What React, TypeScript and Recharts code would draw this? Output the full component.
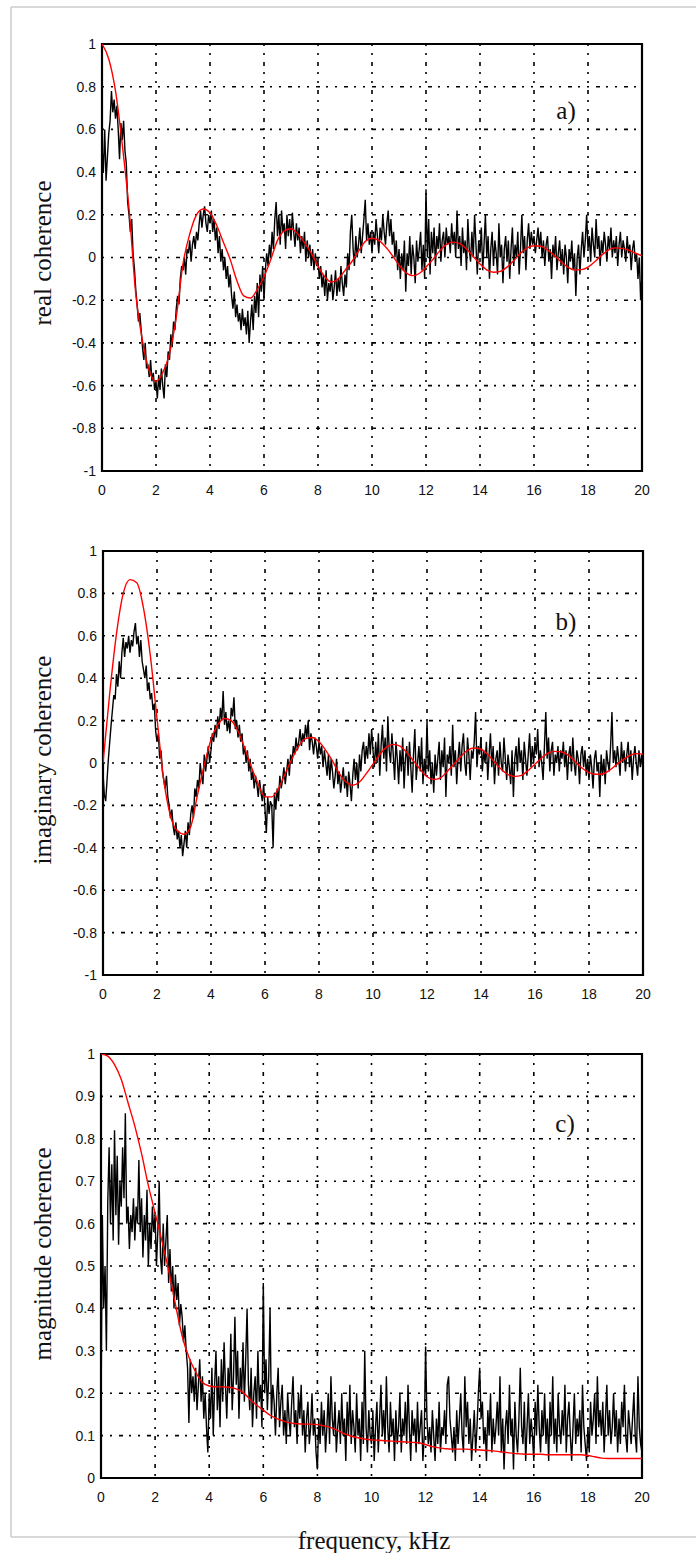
import { LineChart, Line, XAxis, YAxis, CartesianGrid, ReferenceArea } from "recharts";

const freqTicks = [0, 2, 4, 6, 8, 10, 12, 14, 16, 18, 20];
const signedTicks = [-1, -0.8, -0.6, -0.4, -0.2, 0, 0.2, 0.4, 0.6, 0.8, 1];
const magTicks = [0, 0.1, 0.2, 0.3, 0.4, 0.5, 0.6, 0.7, 0.8, 0.9, 1];

// measured curves are sampled every 0.05 kHz, model curves every 0.25 kHz
const MEASURED_STEP = 0.05;
const MODEL_STEP = 0.25;

const realMeasured = [
  0.52, 0.40, 0.60, 0.36, 0.47, 0.58, 0.64, 0.78, 0.68, 0.74, 0.65, 0.71, 0.60, 0.46, 0.63, 0.55, 0.64, 0.50, 0.44, 0.26,
  0.20, 0.12, 0.18, 0.02, -0.05, -0.15, -0.22, -0.30, -0.26, -0.34, -0.42, -0.48, -0.40, -0.52, -0.50, -0.56, -0.48, -0.58, -0.54, -0.62,
  -0.58, -0.66, -0.55, -0.62, -0.52, -0.60, -0.66, -0.50, -0.56, -0.44, -0.48, -0.36, -0.42, -0.30, -0.34, -0.24, -0.18, -0.22, -0.10, -0.04,
  -0.06, 0.0, -0.08, 0.04, 0.02, 0.08, -0.02, 0.06, 0.10, 0.04, 0.12, 0.08, 0.16, 0.22, 0.14, 0.20, 0.24, 0.16, 0.12, 0.20,
  0.16, 0.22, 0.12, 0.18, 0.08, 0.14, 0.02, 0.10, -0.02, 0.04, -0.06, 0.0, -0.10, -0.04, -0.14, -0.08, -0.18, -0.24, -0.16, -0.28,
  -0.22, -0.30, -0.26, -0.34, -0.24, -0.32, -0.28, -0.36, -0.25, -0.40, -0.30, -0.22, -0.34, -0.18, -0.26, -0.12, -0.28, -0.08, -0.16, -0.04,
  -0.20, -0.06, 0.02, -0.04, 0.06, 0.0, 0.12, 0.04, 0.18, 0.26, 0.10, 0.20, 0.06, 0.22, 0.12, 0.16, 0.04, 0.20, 0.10, 0.18,
  0.08, 0.21, 0.12, 0.05, 0.16, 0.08, 0.14, 0.02, 0.10, 0.04, 0.12, -0.02, 0.08, 0.0, 0.06, -0.04, 0.04, -0.06, 0.02, -0.04,
  -0.02, -0.10, -0.04, -0.14, -0.08, -0.18, -0.06, -0.20, -0.12, -0.16, -0.08, -0.20, -0.14, -0.06, -0.18, -0.10, -0.16, -0.04, -0.12, -0.18,
  -0.08, -0.14, 0.02, -0.06, 0.12, 0.20, 0.04, -0.04, 0.10, 0.0, 0.06, 0.14, 0.02, 0.10, 0.18, 0.27, 0.08, 0.16, 0.06, 0.12,
  0.02, 0.12, 0.06, 0.18, 0.10, 0.02, 0.14, 0.08, 0.20, 0.12, 0.06, 0.16, 0.22, 0.10, 0.18, 0.06, 0.12, 0.0, 0.08, -0.06,
  0.04, -0.10, 0.02, -0.06, 0.08, -0.16, 0.02, -0.04, 0.10, -0.08, 0.06, 0.0, -0.12, 0.08, -0.02, 0.04, 0.12, -0.06, 0.06, -0.10,
  0.32, 0.0, 0.18, -0.08, 0.12, 0.02, 0.14, -0.04, 0.10, 0.04, 0.16, -0.02, 0.08, 0.12, 0.0, 0.14, 0.06, 0.10, 0.02, 0.16,
  0.06, 0.12, 0.0, 0.22, 0.04, 0.10, -0.04, 0.14, 0.02, 0.08, -0.06, 0.18, 0.04, -0.02, 0.12, 0.0, 0.20, 0.06, -0.08, 0.08,
  0.02, 0.14, -0.06, 0.06, 0.20, 0.0, 0.10, -0.10, 0.04, 0.12, -0.04, 0.08, 0.02, -0.08, 0.16, 0.0, 0.06, -0.12, 0.04, 0.10,
  -0.02, 0.08, -0.10, 0.04, 0.14, -0.04, 0.06, 0.0, 0.12, -0.08, 0.04, 0.20, 0.02, 0.10, -0.06, 0.08, 0.16, 0.04, 0.12, 0.06,
  0.10, 0.02, 0.08, 0.14, 0.04, 0.12, 0.0, 0.08, -0.04, 0.06, 0.10, -0.02, 0.04, -0.10, 0.06, 0.0, 0.10, -0.06, 0.02, 0.08,
  -0.04, 0.04, -0.08, 0.06, 0.0, -0.12, 0.04, -0.02, 0.08, -0.06, 0.02, -0.18, 0.0, 0.06, -0.08, 0.04, 0.12, 0.0, 0.08, 0.20,
  0.04, 0.10, -0.02, 0.14, 0.06, 0.0, 0.18, 0.04, 0.10, -0.04, 0.08, 0.02, 0.12, 0.06, -0.02, 0.10, 0.04, 0.14, 0.0, 0.08,
  0.02, 0.10, -0.04, 0.06, 0.12, 0.0, 0.08, 0.04, -0.02, 0.10, 0.02, 0.06, -0.06, 0.04, 0.08, -0.02, 0.02, -0.10, 0.0, -0.20,
  -0.08,
];

const realModel = [
  1.0, 0.93, 0.78, 0.53,
  0.23, -0.17, -0.39, -0.53,
  -0.58, -0.54, -0.45, -0.28,
  -0.03, 0.11, 0.20, 0.227,
  0.21, 0.15, 0.07, -0.01,
  -0.11, -0.18, -0.19, -0.15,
  -0.09, -0.01, 0.08, 0.125,
  0.135, 0.11, 0.07, 0.02,
  -0.04, -0.09, -0.115, -0.10,
  -0.06, -0.02, 0.03, 0.075,
  0.09, 0.08, 0.05, 0.01,
  -0.035, -0.07, -0.085, -0.075,
  -0.045, -0.01, 0.03, 0.06,
  0.072, 0.065, 0.04, 0.005,
  -0.03, -0.058, -0.069, -0.065,
  -0.045, -0.015, 0.02, 0.045,
  0.055, 0.053, 0.035, 0.01,
  -0.02, -0.045, -0.058, -0.057,
  -0.045, -0.02, 0.01, 0.035,
  0.045, 0.043, 0.035, 0.02,
  0.008,
];

const imagMeasured = [
  -0.05, -0.15, -0.18, -0.08, 0.02, 0.10, 0.18, 0.25, 0.32, 0.30, 0.42, 0.36, 0.48, 0.40, 0.52, 0.59, 0.50, 0.57, 0.54, 0.60,
  0.52, 0.58, 0.55, 0.62, 0.66, 0.56, 0.60, 0.50, 0.58, 0.48, 0.44, 0.40, 0.46, 0.34, 0.38, 0.30, 0.33, 0.25, 0.28, 0.15,
  0.10, 0.14, 0.02, 0.06, -0.04, -0.08, -0.12, -0.06, -0.16, -0.20, -0.26, -0.22, -0.30, -0.34, -0.28, -0.36, -0.32, -0.40, -0.34, -0.44,
  -0.38, -0.32, -0.40, -0.28, -0.34, -0.24, -0.20, -0.26, -0.12, -0.16, -0.08, -0.12, 0.0, -0.06, -0.10, 0.04, -0.04, 0.02, 0.08, 0.0,
  0.06, 0.14, 0.10, 0.18, 0.12, 0.22, 0.16, 0.26, 0.20, 0.34, 0.18, 0.24, 0.15, 0.20, 0.14, 0.26, 0.22, 0.31, 0.16, 0.20,
  0.12, 0.18, 0.10, 0.14, 0.04, 0.08, 0.0, 0.06, -0.04, 0.02, -0.08, -0.04, -0.12, -0.06, -0.10, -0.16, -0.08, -0.14, -0.18, -0.10,
  -0.22, -0.33, -0.16, -0.24, -0.18, -0.20, -0.40, -0.14, -0.22, -0.12, -0.18, -0.06, -0.12, -0.08, -0.02, -0.10, -0.04, 0.02, -0.06, 0.04,
  0.0, 0.08, 0.04, 0.12, 0.06, 0.10, 0.16, 0.08, 0.14, 0.10, 0.18, 0.12, 0.20, 0.06, 0.14, 0.10, 0.04, 0.12, 0.08, 0.02,
  0.10, 0.04, 0.08, -0.02, 0.06, 0.0, -0.06, 0.04, -0.08, 0.02, -0.04, -0.12, -0.06, 0.02, -0.10, -0.04, -0.14, -0.08, -0.02, -0.12,
  -0.06, -0.16, -0.04, -0.10, -0.18, -0.06, 0.02, -0.08, 0.0, -0.12, 0.04, -0.04, 0.06, 0.10, 0.0, 0.08, 0.02, 0.14, 0.04, 0.16,
  0.06, -0.02, 0.10, 0.0, 0.14, -0.06, 0.08, 0.18, 0.02, 0.12, -0.04, 0.22, 0.06, 0.0, 0.14, 0.04, -0.08, 0.10, 0.02, -0.10,
  0.06, -0.04, 0.12, -0.12, 0.02, 0.08, -0.06, 0.10, -0.02, -0.14, 0.04, 0.16, -0.08, 0.0, 0.08, -0.04, 0.12, -0.10, 0.02, -0.06,
  0.20, -0.04, 0.06, -0.10, 0.0, -0.14, 0.04, -0.06, 0.02, 0.10, -0.08, 0.06, -0.02, 0.12, -0.16, 0.04, 0.0, 0.08, -0.06, 0.18,
  -0.02, 0.06, -0.10, 0.02, 0.10, -0.04, 0.08, 0.14, 0.0, -0.06, 0.12, 0.04, -0.08, 0.06, 0.02, 0.10, 0.24, -0.02, 0.08, 0.04,
  0.12, -0.04, 0.06, 0.0, 0.10, -0.08, 0.04, 0.14, -0.02, 0.08, -0.10, 0.02, 0.06, -0.06, 0.10, 0.0, -0.04, 0.12, 0.02, -0.08,
  0.04, -0.02, -0.10, 0.06, -0.16, 0.02, 0.08, -0.04, 0.12, 0.0, 0.06, -0.08, 0.10, 0.02, -0.06, 0.04, 0.14, -0.02, 0.08, 0.0,
  0.10, 0.04, 0.16, -0.02, 0.06, 0.0, -0.08, 0.08, 0.24, 0.02, 0.12, -0.04, 0.06, 0.10, -0.06, 0.04, 0.0, 0.08, -0.04, 0.06,
  0.02, 0.10, -0.02, 0.06, -0.08, 0.04, 0.08, -0.04, 0.12, 0.0, -0.06, 0.06, 0.02, -0.10, 0.04, 0.08, -0.02, 0.06, -0.06, 0.02,
  -0.08, 0.04, -0.02, -0.12, 0.02, 0.06, -0.04, 0.0, -0.16, 0.04, -0.06, 0.02, -0.10, 0.06, 0.0, -0.04, 0.08, 0.24, 0.0, 0.06,
  -0.02, 0.08, 0.02, -0.06, 0.10, 0.0, 0.06, -0.04, 0.04, 0.10, -0.02, 0.06, -0.08, 0.02, 0.08, 0.0, -0.06, 0.06, -0.02, 0.04,
  -0.04,
];

const imagModel = [
  0.0, 0.33, 0.61, 0.80,
  0.865, 0.85, 0.73, 0.51,
  0.21, -0.08, -0.25, -0.32,
  -0.336, -0.30, -0.15, -0.01,
  0.11, 0.18, 0.21, 0.20,
  0.15, 0.07, -0.02, -0.10,
  -0.16, -0.16, -0.12, -0.05,
  0.02, 0.08, 0.115, 0.12,
  0.10, 0.06, 0.01, -0.05,
  -0.09, -0.105, -0.09, -0.05,
  -0.005, 0.04, 0.075, 0.088,
  0.08, 0.05, 0.01, -0.03,
  -0.065, -0.078, -0.07, -0.04,
  -0.005, 0.03, 0.06, 0.071,
  0.065, 0.04, 0.005, -0.03,
  -0.055, -0.063, -0.058, -0.035,
  -0.005, 0.025, 0.048, 0.055,
  0.052, 0.035, 0.005, -0.025,
  -0.045, -0.053, -0.052, -0.035,
  -0.01, 0.015, 0.035, 0.044,
  0.042,
];

const magMeasured = [
  0.15, 0.62, 0.40, 0.50, 0.30, 0.65, 0.78, 0.60, 0.74, 0.56, 0.82, 0.62, 0.76, 0.55, 0.70, 0.64, 0.78, 0.66, 0.86, 0.60,
  0.64, 0.54, 0.62, 0.58, 0.66, 0.56, 0.64, 0.60, 0.75, 0.58, 0.66, 0.52, 0.62, 0.56, 0.68, 0.50, 0.60, 0.54, 0.64, 0.58,
  0.62, 0.50, 0.58, 0.70, 0.52, 0.48, 0.60, 0.50, 0.56, 0.62, 0.46, 0.54, 0.44, 0.50, 0.40, 0.48, 0.42, 0.46, 0.36, 0.41,
  0.38, 0.32, 0.36, 0.30, 0.26, 0.13, 0.28, 0.20, 0.24, 0.18, 0.26, 0.16, 0.22, 0.28, 0.18, 0.24, 0.14, 0.20, 0.12, 0.06,
  0.20, 0.14, 0.26, 0.10, 0.22, 0.30, 0.16, 0.24, 0.12, 0.28, 0.18, 0.32, 0.22, 0.14, 0.26, 0.20, 0.34, 0.16, 0.24, 0.38,
  0.22, 0.30, 0.14, 0.26, 0.20, 0.32, 0.18, 0.28, 0.40, 0.22, 0.16, 0.26, 0.12, 0.20, 0.24, 0.14, 0.30, 0.18, 0.22, 0.12,
  0.46, 0.20, 0.28, 0.16, 0.24, 0.40, 0.14, 0.22, 0.18, 0.10, 0.20, 0.26, 0.12, 0.18, 0.22, 0.10, 0.16, 0.08, 0.20, 0.14,
  0.10, 0.18, 0.24, 0.12, 0.16, 0.08, 0.20, 0.14, 0.22, 0.10, 0.16, 0.06, 0.14, 0.18, 0.08, 0.12, 0.20, 0.10, 0.14, 0.06,
  0.02, 0.14, 0.08, 0.18, 0.10, 0.16, 0.06, 0.12, 0.20, 0.08, 0.24, 0.14, 0.10, 0.18, 0.06, 0.12, 0.16, 0.08, 0.20, 0.10,
  0.14, 0.04, 0.18, 0.10, 0.22, 0.08, 0.16, 0.12, 0.06, 0.20, 0.10, 0.14, 0.04, 0.18, 0.08, 0.30, 0.12, 0.06, 0.16, 0.10,
  0.08, 0.16, 0.04, 0.12, 0.18, 0.06, 0.14, 0.22, 0.10, 0.16, 0.08, 0.24, 0.12, 0.06, 0.18, 0.10, 0.14, 0.04, 0.16, 0.08,
  0.12, 0.20, 0.06, 0.14, 0.10, 0.18, 0.08, 0.22, 0.12, 0.04, 0.16, 0.10, 0.14, 0.06, 0.18, 0.08, 0.12, 0.16, 0.04, 0.10,
  0.31, 0.14, 0.08, 0.12, 0.06, 0.16, 0.10, 0.04, 0.14, 0.08, 0.18, 0.06, 0.12, 0.10, 0.16, 0.08, 0.22, 0.24, 0.14, 0.10,
  0.06, 0.12, 0.04, 0.16, 0.08, 0.14, 0.20, 0.10, 0.06, 0.24, 0.12, 0.18, 0.08, 0.14, 0.04, 0.10, 0.16, 0.06, 0.12, 0.20,
  0.26, 0.14, 0.18, 0.08, 0.12, 0.04, 0.16, 0.10, 0.20, 0.06, 0.14, 0.08, 0.12, 0.18, 0.10, 0.24, 0.06, 0.14, 0.02, 0.12,
  0.16, 0.08, 0.22, 0.10, 0.14, 0.02, 0.18, 0.10, 0.06, 0.14, 0.26, 0.12, 0.08, 0.18, 0.04, 0.12, 0.20, 0.08, 0.14, 0.10,
  0.04, 0.18, 0.10, 0.22, 0.12, 0.06, 0.16, 0.10, 0.20, 0.08, 0.14, 0.04, 0.18, 0.10, 0.24, 0.08, 0.14, 0.06, 0.20, 0.12,
  0.08, 0.16, 0.10, 0.22, 0.06, 0.14, 0.18, 0.10, 0.04, 0.12, 0.20, 0.08, 0.14, 0.10, 0.16, 0.06, 0.22, 0.12, 0.08, 0.04,
  0.12, 0.06, 0.18, 0.10, 0.14, 0.20, 0.08, 0.24, 0.12, 0.16, 0.10, 0.18, 0.06, 0.14, 0.22, 0.10, 0.16, 0.08, 0.12, 0.20,
  0.10, 0.16, 0.06, 0.14, 0.08, 0.18, 0.12, 0.22, 0.10, 0.06, 0.16, 0.12, 0.08, 0.14, 0.20, 0.10, 0.06, 0.24, 0.12, 0.08,
  0.06,
];

const magModel = [
  1.0, 0.995, 0.975, 0.94,
  0.885, 0.83, 0.765, 0.69,
  0.625, 0.56, 0.49, 0.41,
  0.335, 0.285, 0.25, 0.225,
  0.217, 0.215, 0.215, 0.214,
  0.21, 0.202, 0.186, 0.172,
  0.16, 0.148, 0.14, 0.134,
  0.13, 0.128, 0.127, 0.127,
  0.126, 0.123, 0.119, 0.112,
  0.104, 0.099, 0.095, 0.092,
  0.09, 0.089, 0.088, 0.087,
  0.086, 0.085, 0.084, 0.083,
  0.079, 0.074, 0.071, 0.069,
  0.068, 0.068, 0.068, 0.067,
  0.066, 0.065, 0.064, 0.062,
  0.06, 0.058, 0.057, 0.056,
  0.056, 0.056, 0.055, 0.055,
  0.055, 0.055, 0.055, 0.055,
  0.053, 0.05, 0.047, 0.046,
  0.046, 0.046, 0.046, 0.046,
  0.046,
];

const toSeries = (values: number[], step: number) =>
  values.map((v, i) => ({ f: Math.round(i * step * 100) / 100, v }));

const tickStyle = { fontSize: 14, fill: "#111", fontFamily: "'Liberation Sans', Arial, sans-serif" };
const serif = "'Liberation Serif', 'Times New Roman', serif";

type PanelProps = {
  top: number;
  left: number;
  right: number;
  plotHeight: number;
  ticks: number[];
  measured: number[];
  model: number[];
};

function Panel({ top, left, right, plotHeight, ticks, measured, model }: PanelProps) {
  const yMin = ticks[0];
  const yMax = ticks[ticks.length - 1];
  return (
    <div style={{ position: "absolute", left: 0, top: top - 10 }}>
      <LineChart
        width={696}
        height={plotHeight + 40}
        margin={{ top: 10, right: 696 - right, bottom: 0, left: left - 50 }}
      >
        <CartesianGrid stroke="#000" strokeWidth={1.6} strokeDasharray="2 7 2 7 4 6" />
        <XAxis
          type="number"
          dataKey="f"
          domain={[0, 20]}
          ticks={freqTicks}
          interval={0}
          height={30}
          tickSize={0}
          tickMargin={14}
          axisLine={false}
          tick={tickStyle}
          allowDataOverflow
        />
        <YAxis
          type="number"
          domain={[yMin, yMax]}
          ticks={ticks}
          interval={0}
          width={50}
          tickSize={0}
          tickMargin={6}
          axisLine={false}
          tick={tickStyle}
          allowDataOverflow
        />
        <Line
          data={toSeries(measured, MEASURED_STEP)}
          dataKey="v"
          type="linear"
          stroke="#000"
          strokeWidth={1.4}
          dot={false}
          isAnimationActive={false}
        />
        <Line
          data={toSeries(model, MODEL_STEP)}
          dataKey="v"
          type="monotone"
          stroke="#ff0000"
          strokeWidth={1.4}
          dot={false}
          isAnimationActive={false}
        />
        <ReferenceArea x1={0} x2={20} y1={yMin} y2={yMax} fill="none" stroke="#000" strokeWidth={2.2} />
      </LineChart>
    </div>
  );
}

export default function App() {
  return (
    <div
      style={{
        position: "absolute",
        left: 0,
        top: 0,
        width: 696,
        height: 1553,
        background: "#fff",
        overflow: "hidden",
      }}
    >
      <Panel top={44} left={102} right={642} plotHeight={427} ticks={signedTicks} measured={realMeasured} model={realModel} />
      <Panel top={551} left={103} right={643} plotHeight={424} ticks={signedTicks} measured={imagMeasured} model={imagModel} />
      <Panel top={1054} left={101} right={642} plotHeight={424} ticks={magTicks} measured={magMeasured} model={magModel} />
      <svg width={696} height={1553} style={{ position: "absolute", left: 0, top: 0, pointerEvents: "none" }}>
        <line x1={11} y1={7} x2={696} y2={7} stroke="#cccccc" strokeWidth={1.5} />
        <line x1={11} y1={7} x2={11} y2={1537} stroke="#cccccc" strokeWidth={1.5} />
        <line x1={11} y1={1537} x2={696} y2={1537} stroke="#cccccc" strokeWidth={1.5} />
        <g fontFamily={serif} fontSize={25} fill="#111" textAnchor="middle" dominantBaseline="central">
          <text transform="translate(42,253) rotate(-90)">real coherence</text>
          <text transform="translate(42,760) rotate(-90)">imaginary coherence</text>
          <text transform="translate(42,1254) rotate(-90)">magnitude coherence</text>
          <text x={566} y={110}>a)</text>
          <text x={566} y={621}>b)</text>
          <text x={565} y={1123}>c)</text>
          <text x={374} y={1540}>frequency, kHz</text>
        </g>
      </svg>
    </div>
  );
}
